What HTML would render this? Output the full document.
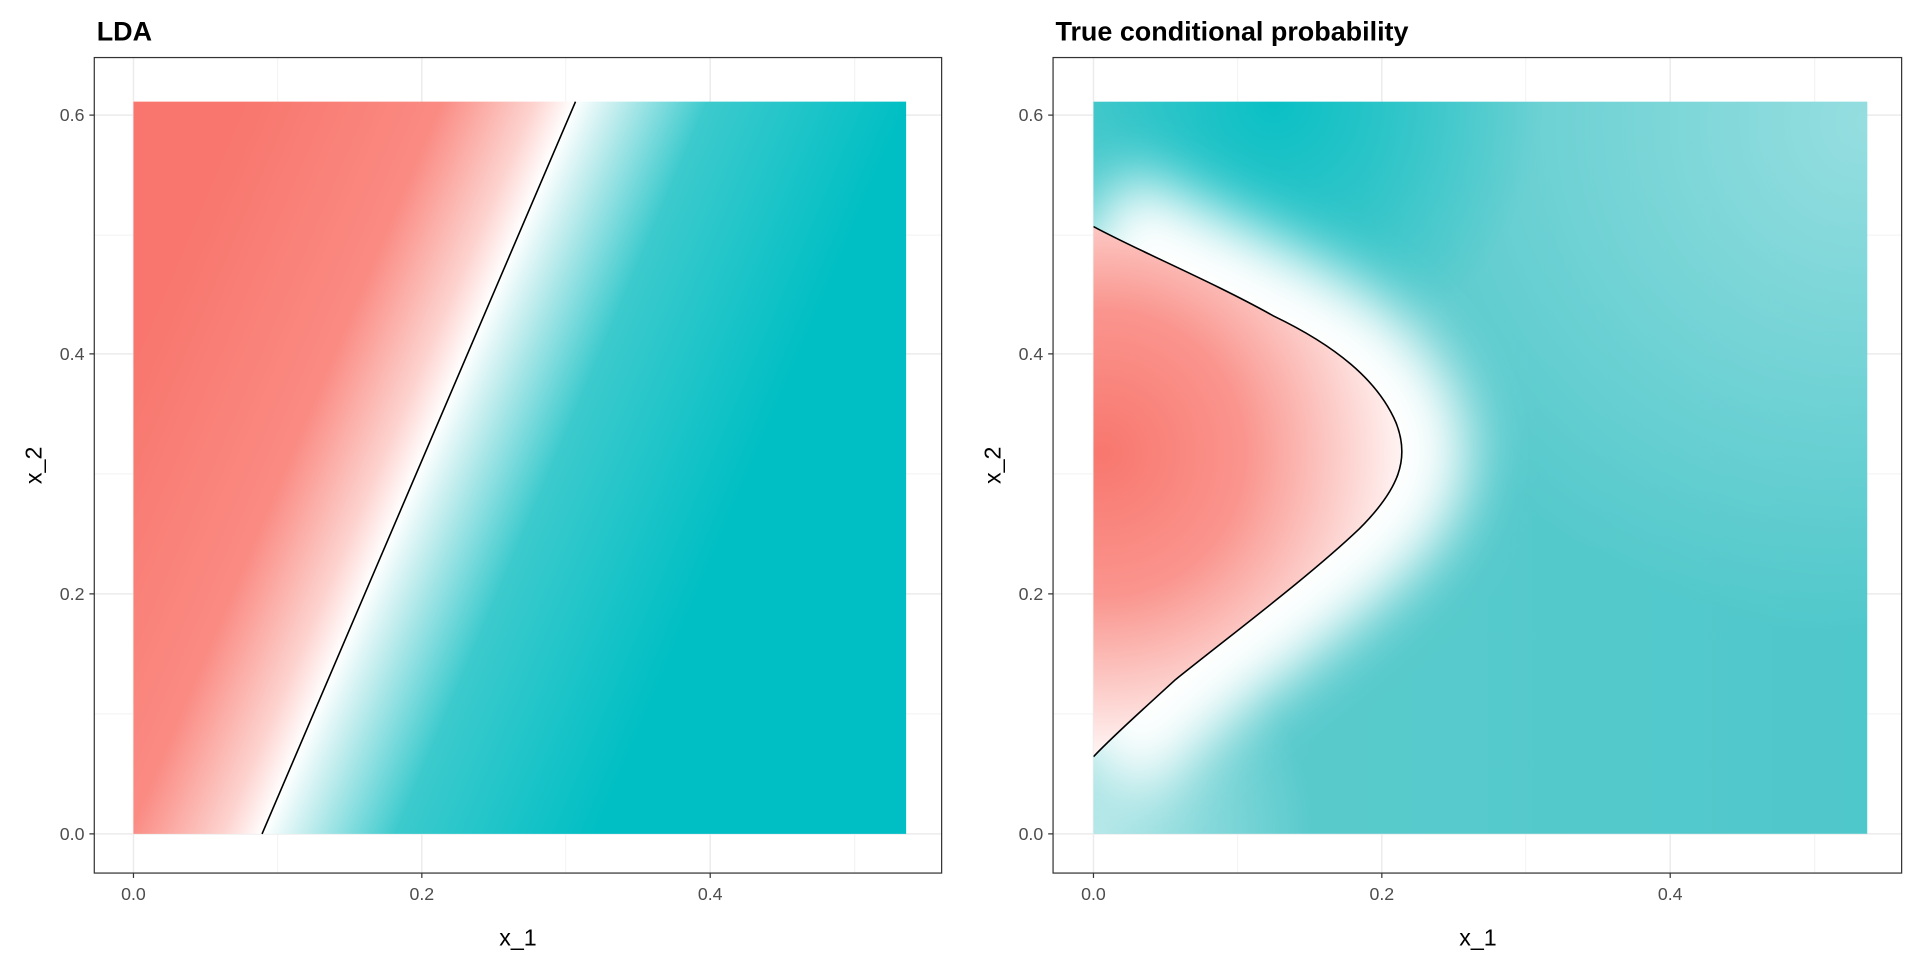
<!DOCTYPE html>
<html><head><meta charset="utf-8"><style>
html,body{margin:0;padding:0;background:#fff;}
svg{display:block;}
text{font-family:"Liberation Sans",Arial,sans-serif;}
</style></head><body>
<svg width="1920" height="960" viewBox="0 0 1568 784" xmlns="http://www.w3.org/2000/svg">
<defs>
  <linearGradient id="lda" gradientUnits="userSpaceOnUse" x1="112" y1="284" x2="572" y2="480">
    <stop offset="0" stop-color="#F8766D"/>
    <stop offset="0.3" stop-color="#FA8B83"/>
    <stop offset="0.44" stop-color="#FDD3CF"/>
    <stop offset="0.5" stop-color="#FFFFFF"/>
    <stop offset="0.56" stop-color="#C6EEEF"/>
    <stop offset="0.7" stop-color="#3CCACD"/>
    <stop offset="1" stop-color="#00BFC4"/>
  </linearGradient>
  <radialGradient id="red" gradientUnits="userSpaceOnUse" cx="900" cy="370" r="260">
    <stop offset="0" stop-color="#F8776E"/>
    <stop offset="0.45" stop-color="#FA958E"/>
    <stop offset="0.8" stop-color="#FDD8D5"/>
    <stop offset="1" stop-color="#FFFFFF"/>
  </radialGradient>
  <linearGradient id="tealH" x1="0" y1="0" x2="1" y2="0">
    <stop offset="0" stop-color="#5CCBCD"/>
    <stop offset="1" stop-color="#4FC8CB"/>
  </linearGradient>
  <radialGradient id="tr" gradientUnits="userSpaceOnUse" cx="1525" cy="100" r="420">
    <stop offset="0" stop-color="#FFFFFF" stop-opacity="0.4"/>
    <stop offset="1" stop-color="#FFFFFF" stop-opacity="0"/>
  </radialGradient>
  <radialGradient id="tc" gradientUnits="userSpaceOnUse" cx="1040" cy="83" r="220">
    <stop offset="0" stop-color="#00BFC4" stop-opacity="0.9"/>
    <stop offset="1" stop-color="#00BFC4" stop-opacity="0"/>
  </radialGradient>
  <radialGradient id="bl" gradientUnits="userSpaceOnUse" cx="893" cy="681" r="180">
    <stop offset="0" stop-color="#FFFFFF" stop-opacity="0.55"/>
    <stop offset="1" stop-color="#FFFFFF" stop-opacity="0"/>
  </radialGradient>
  <filter id="blur" filterUnits="userSpaceOnUse" x="780" y="0" width="700" height="784"><feGaussianBlur stdDeviation="24"/></filter>
  <clipPath id="cr"><rect x="893" y="83" width="632" height="598"/></clipPath>
</defs>

<!-- LEFT PANEL -->
<rect x="77" y="47" width="692" height="666" fill="#fff"/>
<g stroke="#F2F2F2" stroke-width="0.8">
  <line x1="226.75" y1="47" x2="226.75" y2="713"/><line x1="462" y1="47" x2="462" y2="713"/><line x1="698" y1="47" x2="698" y2="713"/>
  <line x1="77" y1="583" x2="769" y2="583"/><line x1="77" y1="387" x2="769" y2="387"/><line x1="77" y1="192" x2="769" y2="192"/>
</g>
<g stroke="#EBEBEB" stroke-width="1.2">
  <line x1="109" y1="47" x2="109" y2="713"/><line x1="344.5" y1="47" x2="344.5" y2="713"/><line x1="580" y1="47" x2="580" y2="713"/>
  <line x1="77" y1="681" x2="769" y2="681"/><line x1="77" y1="485" x2="769" y2="485"/><line x1="77" y1="289" x2="769" y2="289"/><line x1="77" y1="94" x2="769" y2="94"/>
</g>
<rect x="109" y="83" width="631" height="598" fill="url(#lda)"/>
<line x1="214" y1="681" x2="470" y2="83" stroke="#000" stroke-width="1.3"/>
<rect x="77" y="47" width="692" height="666" fill="none" stroke="#333" stroke-width="1"/>
<g stroke="#333" stroke-width="1">
  <line x1="109" y1="713" x2="109" y2="717"/><line x1="344.5" y1="713" x2="344.5" y2="717"/><line x1="580" y1="713" x2="580" y2="717"/>
  <line x1="73" y1="681" x2="77" y2="681"/><line x1="73" y1="485" x2="77" y2="485"/><line x1="73" y1="289" x2="77" y2="289"/><line x1="73" y1="94" x2="77" y2="94"/>
</g>
<g font-size="14.5" fill="#4D4D4D">
  <text x="109" y="735" text-anchor="middle">0.0</text><text x="344.5" y="735" text-anchor="middle">0.2</text><text x="580" y="735" text-anchor="middle">0.4</text>
  <text x="69" y="686" text-anchor="end">0.0</text><text x="69" y="490" text-anchor="end">0.2</text><text x="69" y="294" text-anchor="end">0.4</text><text x="69" y="99" text-anchor="end">0.6</text>
</g>
<text x="423" y="772" font-size="19" text-anchor="middle" fill="#000">x_1</text>
<text x="34" y="380" font-size="19" text-anchor="middle" fill="#000" transform="rotate(-90 34 380)">x_2</text>
<text x="79" y="33" font-size="22" font-weight="bold" fill="#000">LDA</text>

<!-- RIGHT PANEL -->
<rect x="860" y="47" width="693" height="666" fill="#fff"/>
<g stroke="#F2F2F2" stroke-width="0.8">
  <line x1="1010.75" y1="47" x2="1010.75" y2="713"/><line x1="1246" y1="47" x2="1246" y2="713"/><line x1="1482" y1="47" x2="1482" y2="713"/>
  <line x1="860" y1="583" x2="1553" y2="583"/><line x1="860" y1="387" x2="1553" y2="387"/><line x1="860" y1="192" x2="1553" y2="192"/>
</g>
<g stroke="#EBEBEB" stroke-width="1.2">
  <line x1="893" y1="47" x2="893" y2="713"/><line x1="1128.5" y1="47" x2="1128.5" y2="713"/><line x1="1364" y1="47" x2="1364" y2="713"/>
  <line x1="860" y1="681" x2="1553" y2="681"/><line x1="860" y1="485" x2="1553" y2="485"/><line x1="860" y1="289" x2="1553" y2="289"/><line x1="860" y1="94" x2="1553" y2="94"/>
</g>
<g clip-path="url(#cr)">
  <rect x="893" y="83" width="632" height="598" fill="url(#tealH)"/>
  <rect x="893" y="83" width="632" height="598" fill="url(#tr)"/>
  <rect x="893" y="83" width="632" height="598" fill="url(#tc)"/>
  <rect x="893" y="83" width="632" height="598" fill="url(#bl)"/>
  <path d="M893,185 C930,205 990,230 1040,258 C1090,282 1125,310 1140,345 C1152,375 1142,400 1110,432 C1070,470 1010,515 960,555 C935,578 910,600 893,618" fill="none" stroke="#fff" stroke-width="110" filter="url(#blur)"/>
  <path d="M893,185 C930,205 990,230 1040,258 C1090,282 1125,310 1140,345 C1152,375 1142,400 1110,432 C1070,470 1010,515 960,555 C935,578 910,600 893,618 Z" fill="url(#red)"/>
  <path d="M893,185 C930,205 990,230 1040,258 C1090,282 1125,310 1140,345 C1152,375 1142,400 1110,432 C1070,470 1010,515 960,555 C935,578 910,600 893,618" fill="none" stroke="#000" stroke-width="1.3"/>
</g>
<rect x="860" y="47" width="693" height="666" fill="none" stroke="#333" stroke-width="1"/>
<g stroke="#333" stroke-width="1">
  <line x1="893" y1="713" x2="893" y2="717"/><line x1="1128.5" y1="713" x2="1128.5" y2="717"/><line x1="1364" y1="713" x2="1364" y2="717"/>
  <line x1="856" y1="681" x2="860" y2="681"/><line x1="856" y1="485" x2="860" y2="485"/><line x1="856" y1="289" x2="860" y2="289"/><line x1="856" y1="94" x2="860" y2="94"/>
</g>
<g font-size="14.5" fill="#4D4D4D">
  <text x="893" y="735" text-anchor="middle">0.0</text><text x="1128.5" y="735" text-anchor="middle">0.2</text><text x="1364" y="735" text-anchor="middle">0.4</text>
  <text x="852" y="686" text-anchor="end">0.0</text><text x="852" y="490" text-anchor="end">0.2</text><text x="852" y="294" text-anchor="end">0.4</text><text x="852" y="99" text-anchor="end">0.6</text>
</g>
<text x="1207" y="772" font-size="19" text-anchor="middle" fill="#000">x_1</text>
<text x="817" y="380" font-size="19" text-anchor="middle" fill="#000" transform="rotate(-90 817 380)">x_2</text>
<text x="862" y="33" font-size="22" font-weight="bold" fill="#000">True conditional probability</text>
</svg>
</body></html>
